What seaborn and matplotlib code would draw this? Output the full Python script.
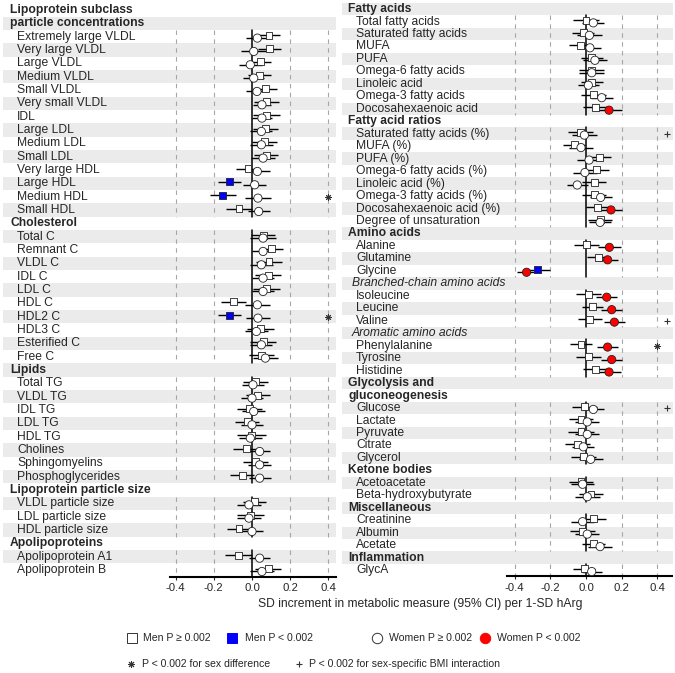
import numpy as np
import pandas as pd
import matplotlib
matplotlib.use("Agg")
import matplotlib.pyplot as plt
import seaborn as sns


### DATA ###

# left column: (header lines, header kind, measures)
left_groups = [
    (["Lipoprotein subclass", "particle concentrations"], "h",
     ["Extremely large VLDL", "Very large VLDL", "Large VLDL", "Medium VLDL",
      "Small VLDL", "Very small VLDL", "IDL", "Large LDL", "Medium LDL",
      "Small LDL", "Very large HDL", "Large HDL", "Medium HDL", "Small HDL"]),
    (["Cholesterol"], "h",
     ["Total C", "Remnant C", "VLDL C", "IDL C", "LDL C", "HDL C", "HDL2 C",
      "HDL3 C", "Esterified C", "Free C"]),
    (["Lipids"], "h",
     ["Total TG", "VLDL TG", "IDL TG", "LDL TG", "HDL TG", "Cholines",
      "Sphingomyelins", "Phosphoglycerides"]),
    (["Lipoprotein particle size"], "h",
     ["VLDL particle size", "LDL particle size", "HDL particle size"]),
    (["Apolipoproteins"], "h",
     ["Apolipoprotein A1", "Apolipoprotein B"]),
]

left_men = [0.089, 0.092, 0.044, 0.040, 0.070, 0.075, 0.075, 0.070, 0.066, 0.075,
            -0.021, -0.117, -0.152, -0.068,
            0.058, 0.101, 0.089, 0.084, 0.075, -0.099, -0.117, 0.045, 0.058, 0.049,
            0.019, 0.031, -0.012, -0.026, -0.003, -0.030, 0.019, -0.052,
            0.014, -0.009, -0.068,
            -0.070, 0.084]
left_men_ci = [0.056, 0.058, 0.057, 0.061, 0.063, 0.066, 0.070, 0.066, 0.067, 0.063,
               0.065, 0.061, 0.066, 0.066,
               0.061, 0.061, 0.068, 0.070, 0.070, 0.065, 0.061, 0.070, 0.066, 0.065,
               0.065, 0.061, 0.065, 0.065, 0.078, 0.069, 0.066, 0.065,
               0.061, 0.072, 0.061,
               0.070, 0.066]
left_women = [0.028, 0.009, -0.009, 0.009, 0.026, 0.052, 0.052, 0.049, 0.049, 0.058,
              0.028, 0.014, 0.031, 0.035,
              0.058, 0.058, 0.049, 0.058, 0.058, 0.028, 0.031, 0.023, 0.049, 0.070,
              0.005, 0.000, 0.009, 0.000, -0.009, 0.040, 0.040, 0.040,
              -0.016, -0.016, 0.000,
              0.040, 0.052]
left_women_ci = [0.061, 0.065, 0.059, 0.056, 0.059, 0.047, 0.052, 0.058, 0.061, 0.065,
                 0.064, 0.061, 0.070, 0.057,
                 0.066, 0.058, 0.061, 0.058, 0.058, 0.064, 0.061, 0.061, 0.058, 0.066,
                 0.056, 0.056, 0.061, 0.058, 0.059, 0.056, 0.061, 0.058,
                 0.061, 0.063, 0.058,
                 0.056, 0.061]

# right column
right_groups = [
    (["Fatty acids"], "h",
     ["Total fatty acids", "Saturated fatty acids", "MUFA", "PUFA",
      "Omega-6 fatty acids", "Linoleic acid", "Omega-3 fatty acids",
      "Docosahexaenoic acid"]),
    (["Fatty acid ratios"], "h",
     ["Saturated fatty acids (%)", "MUFA (%)", "PUFA (%)", "Omega-6 fatty acids (%)",
      "Linoleic acid (%)", "Omega-3 fatty acids (%)", "Docosahexaenoic acid (%)",
      "Degree of unsaturation"]),
    (["Amino acids"], "h", ["Alanine", "Glutamine", "Glycine"]),
    (["Branched-chain amino acids"], "s", ["Isoleucine", "Leucine", "Valine"]),
    (["Aromatic amino acids"], "s", ["Phenylalanine", "Tyrosine", "Histidine"]),
    (["Glycolysis and", "gluconeogenesis"], "h",
     ["Glucose", "Lactate", "Pyruvate", "Citrate", "Glycerol"]),
    (["Ketone bodies"], "h", ["Acetoacetate", "Beta-hydroxybutyrate"]),
    (["Miscellaneous"], "h", ["Creatinine", "Albumin", "Acetate"]),
    (["Inflammation"], "h", ["GlycA"]),
]

right_men = [0.000, -0.015, -0.030, 0.032, 0.032, 0.032, 0.041, 0.054,
             -0.030, -0.065, 0.073, 0.060, 0.045, 0.045, 0.065, 0.079,
             0.004, 0.069, -0.273,
             0.013, 0.037, 0.022,
             -0.028, 0.013, 0.054,
             -0.009, -0.028, -0.028, -0.047, -0.015,
             -0.028, 0.028,
             0.041, -0.021, 0.041,
             -0.009]
right_men_ci = [0.071, 0.062, 0.063, 0.062, 0.069, 0.061, 0.069, 0.069,
                0.069, 0.062, 0.065, 0.071, 0.067, 0.069, 0.067, 0.066,
                0.069, 0.065, 0.071,
                0.071, 0.061, 0.065,
                0.062, 0.071, 0.069,
                0.071, 0.067, 0.071, 0.071, 0.069,
                0.067, 0.065,
                0.071, 0.069, 0.065,
                0.062]
right_women = [0.041, 0.019, 0.022, 0.050, 0.032, 0.013, 0.088, 0.129,
               -0.009, -0.028, 0.017, -0.006, -0.049, 0.082, 0.140, 0.079,
               0.131, 0.121, -0.333,
               0.116, 0.144, 0.159,
               0.121, 0.144, 0.129,
               0.041, 0.007, 0.007, -0.015, 0.026,
               -0.019, 0.007,
               -0.019, 0.007, 0.079,
               0.032]
right_women_ci = [0.062, 0.069, 0.062, 0.066, 0.071, 0.060, 0.062, 0.071,
                  0.069, 0.069, 0.066, 0.065, 0.059, 0.062, 0.064, 0.062,
                  0.065, 0.060, 0.056,
                  0.060, 0.060, 0.060,
                  0.060, 0.060, 0.065,
                  0.062, 0.066, 0.068, 0.062, 0.067,
                  0.064, 0.069,
                  0.065, 0.068, 0.065,
                  0.056]

# P < 0.002 flags
men_sig = ["Large HDL", "Medium HDL", "HDL2 C", "Glycine"]
women_sig = ["Docosahexaenoic acid", "Docosahexaenoic acid (%)", "Alanine", "Glutamine",
             "Glycine", "Isoleucine", "Leucine", "Valine", "Phenylalanine",
             "Tyrosine", "Histidine"]
sex_diff = ["Medium HDL", "HDL2 C", "Phenylalanine"]
bmi_interaction = ["Saturated fatty acids (%)", "Valine", "Glucose"]

ticks = [-0.4, -0.2, 0.0, 0.2, 0.4]
tick_labels = ["-0.4", "-0.2", "0.0", "0.2", "0.4"]


### PLOTTING ###

sns.set_style("white")
plt.rcParams['font.family'] = ['Liberation Sans', 'DejaVu Sans']
plt.rcParams['axes.unicode_minus'] = False

FS = 8.7
DODGE = 0.11


def layout(groups):
    rows, items, segs = [], [], []
    y = 0
    for headers, kind, names in groups:
        for h in headers:
            rows.append((y, h, kind))
            y += 1
        start = y
        for n in names:
            rows.append((y, n, "item"))
            items.append((y, n))
            y += 1
        segs.append((start, y - 1))
    return rows, items, segs


def draw_panel(ax, groups, men, men_ci, women, women_ci, xlim, text_x, axis_bounds, marks_x):
    rows, items, segs = layout(groups)
    n = len(rows)
    ax.set_xlim(*xlim)
    ax.set_ylim(n - 0.5, -0.5)

    # alternate shading, bottom row is white
    for y in range(n):
        if (n - 1 - y) % 2 == 1:
            ax.axhspan(y - 0.5, y + 0.5, color='#ebebeb', lw=0, zorder=0)

    # reference lines per block (broken at headers)
    for a, b in segs:
        for gx in [-0.4, -0.2, 0.2, 0.4]:
            ax.plot([gx, gx], [a - 0.5, b + 0.5], color='#a6a6a6', lw=0.8,
                    ls=(0, (4, 4)), zorder=1)
        ax.plot([0, 0], [a - 0.5, b + 0.5], color='black', lw=1.1, zorder=2)

    for y, lab, kind in rows:
        if kind == "h":
            ax.text(text_x[0], y, lab, va='center', ha='left', fontsize=FS, fontweight='bold')
        elif kind == "s":
            ax.text(text_x[1], y, lab, va='center', ha='left', fontsize=FS, style='italic')
        else:
            ax.text(text_x[2], y, lab, va='center', ha='left', fontsize=FS)

    df = pd.DataFrame({
        'label': [lab for _, lab in items],
        'y': [y for y, _ in items],
        'men': men, 'men_ci': men_ci,
        'women': women, 'women_ci': women_ci,
    })
    df['men_sig'] = df.label.isin(men_sig)
    df['women_sig'] = df.label.isin(women_sig)
    df['ym'] = df.y - DODGE
    df['yw'] = df.y + DODGE

    ax.hlines(df.ym, df.men - df.men_ci, df.men + df.men_ci, color='black', lw=1.0, zorder=3)
    ax.hlines(df.yw, df.women - df.women_ci, df.women + df.women_ci, color='black', lw=1.0, zorder=3)

    sns.scatterplot(data=df, x='men', y='ym', hue='men_sig',
                    palette={False: 'white', True: '#0000ff'}, marker='s', s=25,
                    edgecolor='#222222', linewidth=0.6, legend=False, ax=ax, zorder=4)
    sns.scatterplot(data=df, x='women', y='yw', hue='women_sig',
                    palette={False: 'white', True: '#ff0000'}, marker='o', s=35,
                    edgecolor='#222222', linewidth=0.6, legend=False, ax=ax, zorder=5)

    sd = df[df.label.isin(sex_diff)]
    ax.plot([marks_x[0]] * len(sd), sd.y, ls='none', marker=(8, 2, 0), ms=4.5,
            mew=0.7, color='#333333', zorder=5)
    bi = df[df.label.isin(bmi_interaction)]
    ax.plot([marks_x[1]] * len(bi), bi.y, ls='none', marker='+', ms=4.5,
            mew=0.8, color='#333333', zorder=5)

    for s in ['left', 'top', 'right']:
        ax.spines[s].set_visible(False)
    ax.spines['bottom'].set_bounds(*axis_bounds)
    ax.spines['bottom'].set_linewidth(1.5)
    ax.spines['bottom'].set_color('black')
    ax.set_xticks(ticks)
    ax.set_xticklabels(tick_labels)
    ax.set_yticks([])
    ax.tick_params(axis='x', direction='out', length=2.5, width=0.8, pad=2,
                   labelsize=8.2, bottom=True)
    ax.set_xlabel('')
    ax.set_ylabel('')
    ax.set_facecolor('none')


W, H = 675, 673
fig = plt.figure(figsize=(W / 100, H / 100), dpi=100)

# left panel: x pixels 3..336, zero at 252, 0.1 = 19.1 px
ax1 = fig.add_axes([3 / W, 1 - 576.7 / H, 333 / W, 573.4 / H])
draw_panel(ax1, left_groups, left_men, left_men_ci, left_women, left_women_ci,
           xlim=((3 - 252) / 191.0, (336 - 252) / 191.0),
           text_x=((10 - 252) / 191.0, (14 - 252) / 191.0, (17 - 252) / 191.0),
           axis_bounds=((170 - 252) / 191.0, (336 - 252) / 191.0),
           marks_x=(0.4, 0.45))

# right panel: x pixels 342..673, zero at 586, 0.1 = 17.85 px
ax2 = fig.add_axes([342 / W, 1 - 576.4 / H, 331 / W, 573.6 / H])
draw_panel(ax2, right_groups, right_men, right_men_ci, right_women, right_women_ci,
           xlim=((342 - 586) / 178.5, (673 - 586) / 178.5),
           text_x=((348 - 586) / 178.5, (352 - 586) / 178.5, (356 - 586) / 178.5),
           axis_bounds=((507 - 586) / 178.5, (672 - 586) / 178.5),
           marks_x=(0.4, 0.455))

fig.text(420 / W, 1 - 604 / H, 'SD increment in metabolic measure (95% CI) per 1-SD hArg',
         ha='center', va='center', fontsize=FS)

# key drawn in pixel space
leg = fig.add_axes([0, 0, 1, 1])
leg.set_xlim(0, W)
leg.set_ylim(H, 0)
leg.axis('off')
LFS = 7.6
y1, y2 = 638, 664
leg.plot(132, y1, marker='s', ms=7, mfc='white', mec='#333333', mew=0.7)
leg.text(143, y1, 'Men P \u2265 0.002', va='center', fontsize=LFS)
leg.plot(232, y1, marker='s', ms=7, mfc='#0000ff', mec='#0000ff', mew=0.7)
leg.text(245, y1, 'Men P < 0.002', va='center', fontsize=LFS)
leg.plot(377, y1, marker='o', ms=7.5, mfc='white', mec='#333333', mew=0.7)
leg.text(389, y1, 'Women P \u2265 0.002', va='center', fontsize=LFS)
leg.plot(485, y1, marker='o', ms=7.5, mfc='#ff0000', mec='#ff0000', mew=0.7)
leg.text(497, y1, 'Women P < 0.002', va='center', fontsize=LFS)
leg.plot(131, y2, marker=(8, 2, 0), ms=5, mew=0.7, color='#333333')
leg.text(142, y2, 'P < 0.002 for sex difference', va='center', fontsize=LFS)
leg.plot(299, y2, marker='+', ms=5, mew=0.8, color='#333333')
leg.text(309, y2, 'P < 0.002 for sex-specific BMI interaction', va='center', fontsize=LFS)

fig.savefig('out.png', dpi=100)
